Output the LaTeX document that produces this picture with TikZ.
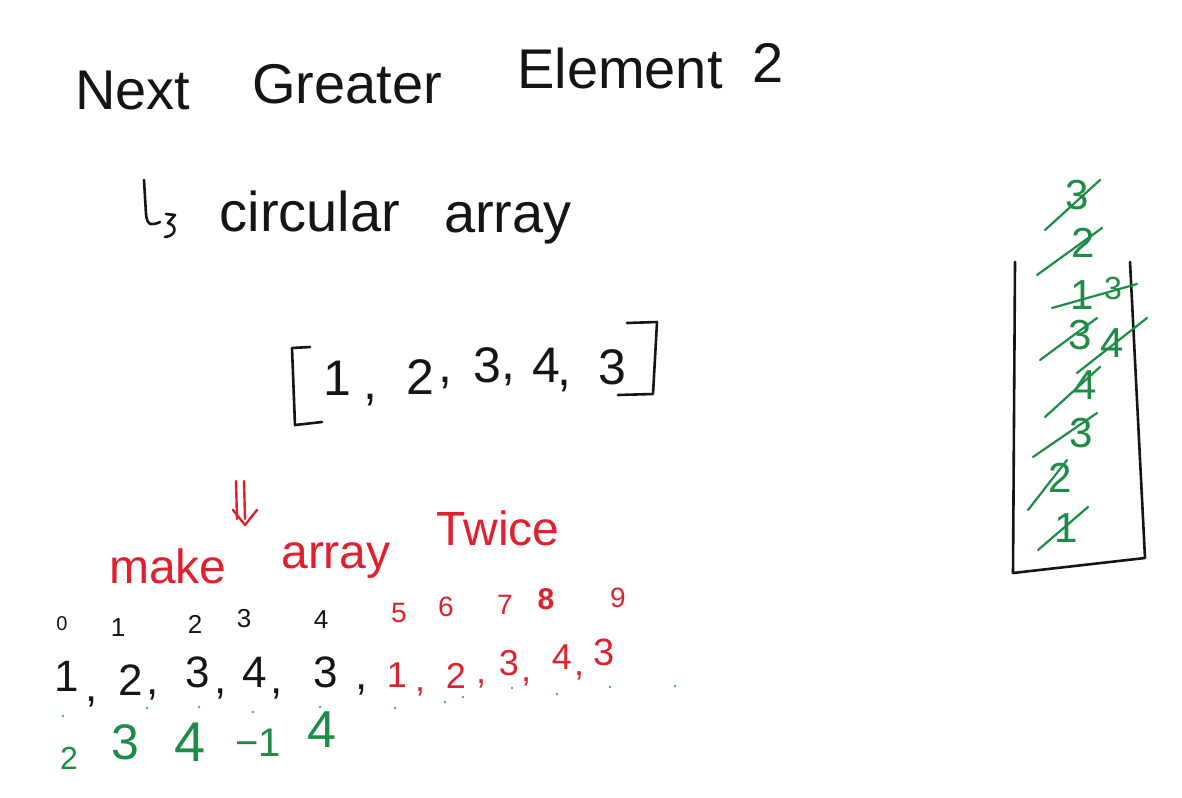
\documentclass[tikz,border=0pt]{standalone}
\usepackage{fontspec}
\setmainfont{Liberation Sans}
\definecolor{ink}{HTML}{151515}
\definecolor{penred}{HTML}{E0202E}
\definecolor{pengreen}{HTML}{1E8C46}
\newcommand\fsz[1]{\fontsize{#1}{#1}\selectfont}
\tikzset{
  txt/.style={inner sep=0pt, outer sep=0pt, text=ink},
  titleword/.style={txt, font=\fsz{56}, anchor=base},
  subword/.style={txt, font=\fsz{56}, anchor=base},
  arrdigit/.style={txt, font=\fsz{50}},
  redword/.style={txt, text=penred, font=\fsz{48}, anchor=base},
  idxblack/.style={txt, font=\fsz{26}},
  idxred/.style={txt, text=penred, font=\fsz{28}},
  valblack/.style={txt, font=\fsz{44}},
  valred/.style={txt, text=penred, font=\fsz{36}},
  resgreen/.style={txt, text=pengreen},
  stackdigit/.style={txt, text=pengreen, font=\fsz{42}},
  hand/.style={draw=ink, line width=2.6pt, line cap=round, line join=round},
  redpen/.style={draw=penred, line width=2.4pt, line cap=round, line join=round},
  greenpen/.style={draw=pengreen, line width=2.2pt, line cap=round, line join=round},
  speck/.style={fill=pengreen!75, draw=none},
}
\begin{document}
\begin{tikzpicture}[x=1pt,y=-1pt]
\useasboundingbox (0,0) rectangle (1182,797);
\fill[white] (0,0) rectangle (1182,797);

% title
\node[titleword] (t1) at (133,110) {Next};
\node[titleword] (t2) at (347,104) {Greater};
\node[titleword] (t3) at (620,89) {Element};
\node[titleword] (t4) at (768,83) {2};

% hook arrow and subtitle
\coordinate (h0) at (144,180);
\coordinate (h1) at (160,222);
\draw[hand] (h0) -- (146,214) .. controls (147,227) and (153,225) .. (h1);
\draw[hand] (166,214) -- (175,215) -- (168,223) .. controls (178,226) and (176,236) .. (165,237);
\node[subword] (c1) at (310,231) {circular};
\node[subword] (c2) at (508,232) {array};

% original array
\draw[hand] (310,347) -- (292,348) -- (295,425) -- (322,422);
\draw[hand] (627,323) -- (657,322) -- (653,394) -- (618,395);
\node[arrdigit] (a1) at (337,378) {1};
\node[arrdigit] (ac1) at (370,400) {,};
\node[arrdigit] (a2) at (420,377) {2};
\node[arrdigit] (ac2) at (445,383) {,};
\node[arrdigit] (a3) at (487,365) {3};
\node[arrdigit] (ac3) at (508,380) {,};
\node[arrdigit] (a4) at (546,365) {4};
\node[arrdigit] (ac4) at (564,386) {,};
\node[arrdigit] (a5) at (612,367) {3};

% double arrow
\coordinate (d0) at (240,481);
\coordinate (d1) at (245,525);
\draw[redpen] (236,481) -- (237,519);
\draw[redpen] (244,481) -- (245,519);
\draw[redpen] (233,510) -- (d1) -- (257,510);

% make array twice
\node[redword] (m1) at (168,583) {make};
\node[redword] (m2) at (336,568) {array};
\node[redword] (m3) at (498,545) {Twice};

% index row
\node[idxblack, font=\fsz{20}] (i0) at (62,624) {0};
\node[idxblack] (i1) at (118,628) {1};
\node[idxblack] (i2) at (195,624) {2};
\node[idxblack] (i3) at (244,619) {3};
\node[idxblack] (i4) at (321,620) {4};
\node[idxred] (i5) at (399,613) {5};
\node[idxred] (i6) at (446,607) {6};
\node[idxred] (i7) at (505,605) {7};
\node[idxred, font=\fsz{30}\bfseries] (i8) at (546,599) {8};
\node[idxred] (i9) at (618,598) {9};

% value row
\node[valblack] (v0) at (67,676) {1};
\node[valblack] (vc0) at (92,702) {,};
\node[valblack] (v1) at (131,680) {2};
\node[valblack] (vc1) at (153,695) {,};
\node[valblack] (v2) at (198,672) {3};
\node[valblack] (vc2) at (221,694) {,};
\node[valblack] (v3) at (255,672) {4};
\node[valblack] (vc3) at (277,694) {,};
\node[valblack] (v4) at (326,672) {3};
\node[valblack] (vc4) at (362,690) {,};
\node[valred] (v5) at (397,675) {1};
\node[valred] (vc5) at (420,692) {,};
\node[valred] (v6) at (456,676) {2};
\node[valred] (vc6) at (481,684) {,};
\node[valred] (v7) at (509,663) {3};
\node[valred] (vc7) at (526,682) {,};
\node[valred] (v8) at (562,657) {4};
\node[valred] (vc8) at (579,676) {,};
\node[valred, font=\fsz{38}] (v9) at (604,652) {3};

% specks
\foreach \p in {(63,716),(147,708),(199,707),(253,712),(320,707),(395,708),(445,702),(463,697),(512,688),(557,694),(610,687),(675,686)}
  \fill[speck] \p circle (1.3);

% result row
\node[resgreen, font=\fsz{32}] (r0) at (69,758) {2};
\node[resgreen, font=\fsz{50}] (r1) at (125,742) {3};
\node[resgreen, font=\fsz{56}] (r2) at (190,742) {4};
\node[resgreen, font=\fsz{40}] (r3) at (258,743) {−1};
\node[resgreen, font=\fsz{52}] (r4) at (322,730) {4};

% stack container
\draw[hand] (1015,262) -- (1013,573) -- (1145,558) -- (1130,262);

% stack contents
\node[stackdigit] (s1) at (1077,195) {3};
\draw[greenpen] (1045,230) -- (1100,180);
\node[stackdigit] (s2) at (1083,243) {2};
\draw[greenpen] (1037,275) -- (1102,228);
\node[stackdigit] (s3) at (1082,295) {1};
\node[stackdigit, font=\fsz{32}] (s4) at (1113,288) {3};
\draw[greenpen] (1052,308) -- (1137,284);
\node[stackdigit] (s5) at (1080,335) {3};
\draw[greenpen] (1040,360) -- (1097,318);
\node[stackdigit] (s6) at (1112,343) {4};
\draw[greenpen] (1077,373) -- (1147,318);
\node[stackdigit] (s7) at (1085,385) {4};
\draw[greenpen] (1045,417) -- (1100,367);
\node[stackdigit] (s8) at (1081,433) {3};
\draw[greenpen] (1033,457) -- (1097,413);
\node[stackdigit] (s9) at (1060,478) {2};
\draw[greenpen] (1028,510) -- (1067,460);
\node[stackdigit] (s10) at (1066,528) {1};
\draw[greenpen] (1038,550) -- (1088,507);
\end{tikzpicture}
\end{document}
